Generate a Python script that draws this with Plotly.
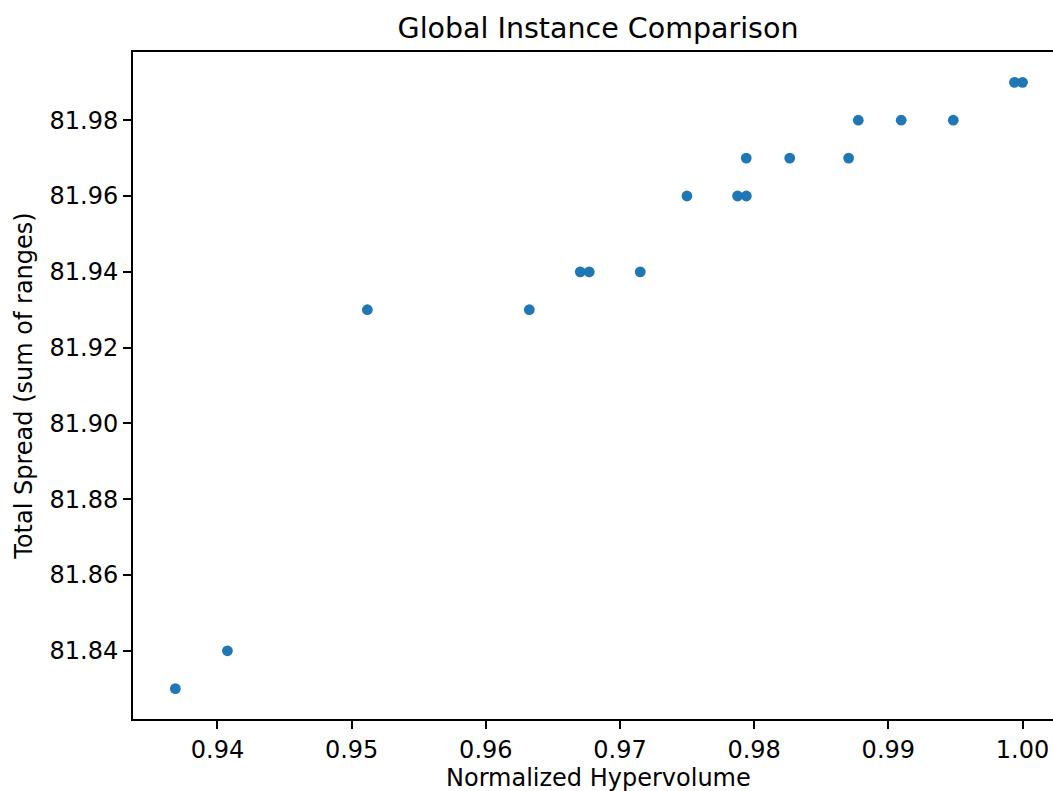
import plotly.graph_objects as go

# Normalized hypervolume vs. total spread for each instance
hypervolume = [
    0.93686, 0.94074, 0.95117, 0.96324, 0.96704, 0.96771, 0.97151,
    0.97499, 0.97876, 0.97942, 0.97941, 0.98265, 0.98704,
    0.98776, 0.99096, 0.99484, 0.99940, 1.00000,
]
total_spread = [
    81.83, 81.84, 81.93, 81.93, 81.94, 81.94, 81.94,
    81.96, 81.96, 81.96, 81.97, 81.97, 81.97,
    81.98, 81.98, 81.98, 81.99, 81.99,
]
x_ticks = [0.94, 0.95, 0.96, 0.97, 0.98, 0.99, 1.00]
y_ticks = [81.84, 81.86, 81.88, 81.90, 81.92, 81.94, 81.96, 81.98]

FONT = "DejaVu Sans"
TICK_PX = 24
TITLE_PX = 28.5

W, H = 1053, 791
M_L, M_T, M_B = 133, 52, 72
plot_w = W - M_L
plot_h = H - M_T - M_B

fig = go.Figure(
    go.Scatter(
        x=hypervolume,
        y=total_spread,
        mode="markers",
        marker=dict(color="#1f77b4", size=10.8, line=dict(width=0)),
        hoverinfo="x+y",
    )
)

axis_common = dict(
    showgrid=False,
    zeroline=False,
    showline=True,
    linecolor="black",
    linewidth=1.8,
    ticks="outside",
    ticklen=8,
    tickwidth=1.8,
    tickcolor="black",
    tickfont=dict(family=FONT, size=TICK_PX, color="black"),
)

fig.update_layout(
    width=W,
    height=H,
    margin=dict(l=M_L, r=0, t=M_T, b=M_B),
    paper_bgcolor="white",
    plot_bgcolor="white",
    showlegend=False,
    font=dict(family=FONT, color="black"),
    title=dict(
        text="Global Instance Comparison",
        font=dict(family=FONT, size=TITLE_PX, color="black"),
        xref="container",
        x=598 / W,
        xanchor="center",
        yref="container",
        y=1 - 28 / H,
        yanchor="middle",
    ),
    xaxis=dict(
        **axis_common,
        mirror=True,
        range=[0.933703, 1.002273],
        tickvals=x_ticks,
        ticktext=[f"{v:.2f}" for v in x_ticks],
    ),
    yaxis=dict(
        **axis_common,
        mirror=False,
        range=[81.822, 81.998],
        tickvals=y_ticks,
        ticktext=[f"{v:.2f}" for v in y_ticks],
        title=dict(
            text="Total Spread (sum of ranges)",
            font=dict(family=FONT, size=TICK_PX, color="black"),
            standoff=10,
        ),
    ),
    annotations=[
        dict(
            text="Normalized Hypervolume",
            xref="paper",
            yref="paper",
            x=(598 - M_L) / plot_w,
            y=-(778 - (H - M_B)) / plot_h,
            xanchor="center",
            yanchor="middle",
            showarrow=False,
            font=dict(family=FONT, size=TICK_PX, color="black"),
        )
    ],
)

fig.write_html("out.html")
